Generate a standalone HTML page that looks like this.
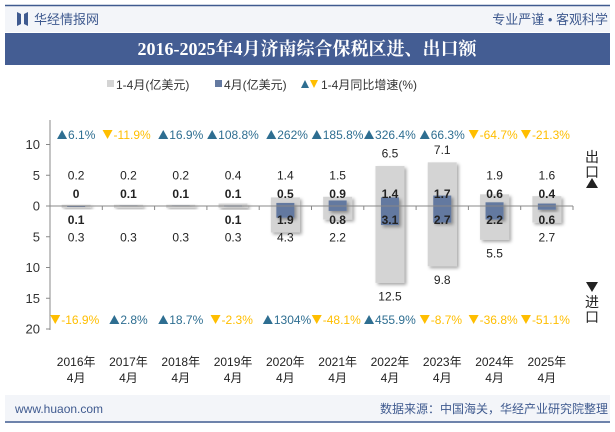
<!DOCTYPE html>
<html><head><meta charset="utf-8"><style>
body{margin:0;width:615px;height:427px;overflow:hidden;background:#fff;font-family:"Liberation Sans","Noto Sans CJK SC",sans-serif;}
</style></head><body>
<svg width="615" height="427" xmlns="http://www.w3.org/2000/svg" font-family="Liberation Sans, Noto Sans CJK SC, sans-serif">
<defs><filter id="sh" x="-30%" y="-30%" width="170%" height="170%"><feDropShadow dx="2" dy="2" stdDeviation="1.5" flood-color="#000" flood-opacity="0.35"/></filter></defs>
<rect x="5" y="6" width="605" height="26" fill="#f3f5f9"/>
<line x1="5" y1="5.5" x2="610" y2="5.5" stroke="#3f5a8f" stroke-width="1.5"/>
<g><path d="M17 12 L21 14 L21 24 L17 26 Z M28 12 L24 14 L24 24 L28 26 Z" fill="#3f5a8f"/></g>
<text x="34" y="24" font-size="13" fill="#3f5a8f">华经情报网</text>
<text x="608" y="24" font-size="13" fill="#3f5a8f" text-anchor="end">专业严谨 • 客观科学</text>
<rect x="5" y="33" width="605" height="32" fill="#445d93"/>
<text x="307" y="55" font-size="18" font-weight="bold" fill="#fff" text-anchor="middle" font-family="Liberation Serif, Noto Serif CJK SC, serif">2016-2025年4月济南综合保税区进、出口额</text>
<g font-size="12" fill="#333">
<rect x="107" y="80" width="7" height="7" fill="#d4d4d4"/><text x="116" y="89">1-4月(亿美元)</text>
<rect x="215" y="80" width="7" height="7" fill="#6479a0"/><text x="224" y="89">4月(亿美元)</text>
<path d="M301 88 L305 80 L309 88 Z" fill="#2e6e91"/><path d="M310 80 L318 80 L314 88 Z" fill="#ffbe00"/>
<text x="321" y="89">1-4月同比增速(%)</text></g>
<g id="chart"></g>
<rect x="5" y="395" width="605" height="26" fill="#f3f5f9"/>
<line x1="5" y1="422" x2="610" y2="422" stroke="#3f5a8f" stroke-width="1.5"/>
<text x="15" y="413" font-size="12" fill="#3f5a8f">www.huaon.com</text>
<text x="608" y="413" font-size="12" fill="#3f5a8f" text-anchor="end">数据来源：中国海关，华经产业研究院整理</text>
</svg>
<script>
const years=["2016年","2017年","2018年","2019年","2020年","2021年","2022年","2023年","2024年","2025年"];
const expYTD=[0.2,0.2,0.2,0.4,1.4,1.5,6.5,7.1,1.9,1.6];
const expApr=[0,0.1,0.1,0.1,0.5,0.9,1.4,1.7,0.6,0.4];
const impYTD=[0.3,0.3,0.3,0.3,4.3,2.2,12.5,9.8,5.5,2.7];
const impApr=[0.1,0,0,0.1,1.9,0.8,3.1,2.7,2.2,0.6];
const expGrowth=[6.1,-11.9,16.9,108.8,262,185.8,326.4,66.3,-64.7,-21.3];
const impGrowth=[-16.9,2.8,18.7,-2.3,1304,-48.1,455.9,-8.7,-36.8,-51.1];
const yTicks=[10,5,0,-5,-10,-15,-20];
const NS="http://www.w3.org/2000/svg",g=document.getElementById('chart');
const x0=50,x1=573,y0=206,k=6.15;
const bw=(x1-x0)/years.length;
const X=i=>x0+bw*(i+0.5);
const Y=v=>y0-v*k;
function mk(t,a,p){const e=document.createElementNS(NS,t);for(const n in a)e.setAttribute(n,a[n]);(p||g).appendChild(e);return e;}
function txt(s,a){const e=mk('text',a);e.textContent=s;return e;}
const ax=mk('line',{x1:x0,y1:120,x2:x0,y2:330,stroke:'#888'});


yTicks.forEach(t=>{
 const l=mk('line',{x1:x0-4,y1:Y(t),x2:x0,y2:Y(t),stroke:'#888'});
 
 
 const tx=txt(String(Math.abs(t)),{x:x0-10,y:Y(t)+4.5,'font-size':13,fill:'#333','text-anchor':'end'});
 
 
});
years.forEach((yr,i)=>{
 const cx=X(i);
 const gb=mk('rect',{x:cx-14.5,y:Y(expYTD[i]),width:29,height:(expYTD[i]+impYTD[i])*k,fill:'#d4d4d4',filter:'url(#sh)'});
 
 
 const bb=mk('rect',{x:cx-9,y:Y(expApr[i]),width:18,height:Math.max((expApr[i]+impApr[i])*k,1),fill:'#6479a0',filter:'url(#sh)'});
 
 
 const ty=expYTD[i]>5?Y(expYTD[i])-13:175;
 const l1=txt(expYTD[i].toFixed(1),{x:cx,y:ty+4.5,'font-size':12,fill:'#222','text-anchor':'middle'});
 
 
 const l2=txt(expApr[i]===0?'0':expApr[i].toFixed(1),{x:cx,y:198,'font-size':12,'font-weight':'bold',fill:'#222','text-anchor':'middle'});
 
 
 if(impApr[i]>0){const l3=txt(impApr[i].toFixed(1),{x:cx,y:224,'font-size':12,'font-weight':'bold',fill:'#222','text-anchor':'middle'});
 
 }
 const by=impYTD[i]>5?Y(-impYTD[i])+13:237;
 const l4=txt(impYTD[i].toFixed(1),{x:cx,y:by+4.5,'font-size':12,fill:'#222','text-anchor':'middle'});
 
 
 [[expGrowth[i],139],[impGrowth[i],324]].forEach(([v,yy])=>{
  const up=v>=0,c=up?'#2e6e91':'#ffbe00';
  const s=v+'%';
  const w=s.length*6.8+11;const sx=cx-w/2;
  const tri=mk('path',{d:up?`M${sx} ${yy} L${sx+5} ${yy-9} L${sx+10} ${yy} Z`:`M${sx} ${yy-9} L${sx+10} ${yy-9} L${sx+5} ${yy} Z`,fill:c});
  
  
  const t=txt(s,{x:sx+11,y:yy,'font-size':12,fill:c});
  
  
 });
 const c1=txt(yr,{x:cx,y:366,'font-size':12,fill:'#222','text-anchor':'middle'});
 
 
 const c2=txt('4月',{x:cx,y:382,'font-size':12,fill:'#222','text-anchor':'middle'});
 
 
 const tk=mk('line',{x1:x0+bw*(i+1),y1:y0,x2:x0+bw*(i+1),y2:y0+4,stroke:'#888'});
 
 
});
const zl=mk('line',{x1:x0,y1:y0,x2:x1,y2:y0,stroke:'#888'});


const ex=txt('出',{x:592,y:162,'font-size':14,fill:'#222','text-anchor':'middle'});


txt('口',{x:592,y:177,'font-size':14,fill:'#222','text-anchor':'middle'});
mk('path',{d:'M586 188 L592 178 L598 188 Z',fill:'#222'});
const im=mk('path',{d:'M586 282 L598 282 L592 292 Z',fill:'#222'});


const it=txt('进',{x:592,y:307,'font-size':14,fill:'#222','text-anchor':'middle'});


txt('口',{x:592,y:322,'font-size':14,fill:'#222','text-anchor':'middle'});
</script>
</body></html>
